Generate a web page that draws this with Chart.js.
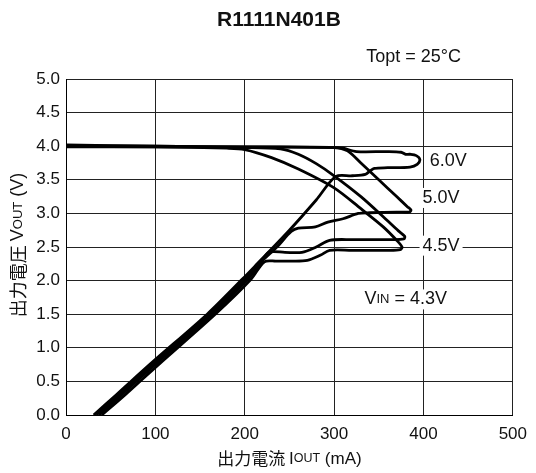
<!DOCTYPE html>
<html><head><meta charset="utf-8">
<script src="https://cdn.jsdelivr.net/npm/chart.js@4"></script>
<style>html,body{margin:0;padding:0;background:#fff}canvas{display:block}</style>
</head><body>
<canvas id="c" width="536" height="473"></canvas>
<script>
const chartTitle = 'R1111N401B';
const conditionText = 'Topt = 25°C';
const xTickValues = [0, 100, 200, 300, 400, 500];
const yTickValues = [0, 0.5, 1.0, 1.5, 2.0, 2.5, 3.0, 3.5, 4.0, 4.5, 5.0];

// VIN = 4.3V : output current (mA) / output voltage (V)
const i43 = [0, 100, 180, 200, 230, 260, 300, 330, 355, 370, 376, 374, 360, 320, 295, 285, 270, 250, 235, 222, 207, 167, 106, 66, 40];
const v43 = [3.99, 3.99, 3.97, 3.95, 3.83, 3.66, 3.38, 3.07, 2.8, 2.6, 2.5, 2.46, 2.45, 2.45, 2.45, 2.38, 2.3, 2.29, 2.29, 2.28, 2.02, 1.5, 0.78, 0.3, 0.0];
// VIN = 4.5V
const i45 = [0, 100, 200, 240, 260, 280, 300, 330, 355, 372, 379, 378, 365, 320, 295, 280, 264, 245, 227, 217, 204, 164, 103, 63, 37];
const v45 = [4.0, 3.99, 3.98, 3.96, 3.88, 3.74, 3.56, 3.25, 2.95, 2.74, 2.66, 2.62, 2.61, 2.61, 2.6, 2.5, 2.42, 2.42, 2.42, 2.24, 2.03, 1.5, 0.79, 0.31, 0.0];
// VIN = 5.0V
const i50 = [0, 100, 200, 300, 315, 330, 350, 370, 382, 386, 384, 370, 340, 327, 310, 293, 279, 260, 252, 236, 216, 201, 161, 100, 60, 34];
const v50 = [4.01, 4.0, 3.99, 3.98, 3.93, 3.75, 3.5, 3.25, 3.1, 3.05, 3.02, 3.02, 3.01, 3.0, 2.92, 2.87, 2.8, 2.78, 2.73, 2.5, 2.25, 2.03, 1.5, 0.79, 0.31, 0.0];
// VIN = 6.0V
const i60 = [0, 100, 200, 300, 310, 325, 360, 375, 380, 385, 392, 396, 393, 385, 360, 345, 340, 335, 320, 302, 280, 250, 214, 198, 158, 97, 57, 31];
const v60 = [4.02, 4.0, 3.99, 3.98, 3.97, 3.92, 3.92, 3.91, 3.88, 3.88, 3.86, 3.8, 3.73, 3.69, 3.68, 3.67, 3.63, 3.58, 3.56, 3.55, 3.2, 2.75, 2.25, 2.03, 1.5, 0.79, 0.31, 0.0];

const seriesCurrents = [i43, i45, i50, i60];
const seriesVoltages = [v43, v45, v50, v60];

const FONT = '"Liberation Sans", Arial, Helvetica, sans-serif';
const JFONT = '"Noto Sans CJK JP", "Liberation Sans", sans-serif';

function zip(xs, ys) { return xs.map((x, k) => ({ x: x, y: ys[k] })); }

function drawParts(ctx, parts, x, y) {
  let total = 0;
  parts.forEach(p => { ctx.font = p[1]; total += ctx.measureText(p[0]).width; });
  let cx = x - total / 2;
  ctx.textAlign = 'left';
  parts.forEach(p => { ctx.font = p[1]; ctx.fillText(p[0], cx, y); cx += ctx.measureText(p[0]).width; });
  return total;
}

function drawLabel(ctx, parts, x, y) {
  let total = 0;
  parts.forEach(p => { ctx.font = p[1]; total += ctx.measureText(p[0]).width; });
  ctx.fillStyle = '#fff';
  ctx.fillRect(x - 3, y - 10, total + 6, 20);
  ctx.fillStyle = '#111';
  let cx = x;
  ctx.textAlign = 'left';
  parts.forEach(p => { ctx.font = p[1]; ctx.fillText(p[0], cx, y); cx += ctx.measureText(p[0]).width; });
}

const textPlugin = {
  id: 'texts',
  afterDraw(chart) {
    const ctx = chart.ctx;
    const xs = chart.scales.x, ys = chart.scales.y;
    const ca = chart.chartArea;
    ctx.save();
    ctx.fillStyle = '#111';
    ctx.textBaseline = 'middle';
    ctx.font = 'bold 21px ' + FONT;
    ctx.textAlign = 'center';
    ctx.fillText(chartTitle, 279, 20);
    ctx.font = '18px ' + FONT;
    ctx.textAlign = 'right';
    ctx.fillText(conditionText, 461, 57);
    const f = '18px ' + FONT, fs = '13px ' + FONT;
    drawLabel(ctx, [['6.0V', f]], xs.getPixelForValue(407), ys.getPixelForValue(3.78));
    drawLabel(ctx, [['5.0V', f]], xs.getPixelForValue(399), ys.getPixelForValue(3.23));
    drawLabel(ctx, [['4.5V', f]], xs.getPixelForValue(399), ys.getPixelForValue(2.52));
    drawLabel(ctx, [['V', f], ['IN', fs], [' = 4.3V', f]], xs.getPixelForValue(334), ys.getPixelForValue(1.72));
    const tf = '17px ' + JFONT, lf = '17px ' + FONT, sf = '12.5px ' + FONT;
    ctx.fillStyle = '#111';
    drawParts(ctx, [['出力電流 ', tf], ['I', lf], ['OUT', sf], [' (mA)', lf]], (ca.left + ca.right) / 2, 459);
    const tf2 = '18px ' + JFONT, lf2 = '18px ' + FONT, sf2 = '13px ' + FONT;
    ctx.save();
    ctx.translate(18, (ca.top + ca.bottom) / 2 - 2);
    ctx.rotate(-Math.PI / 2);
    drawParts(ctx, [['出力電圧 ', tf2], ['V', lf2], ['OUT', sf2], [' (V)', lf2]], 0, 0);
    ctx.restore();
    ctx.restore();
  }
};

new Chart(document.getElementById('c').getContext('2d'), {
  type: 'scatter',
  data: {
    datasets: seriesCurrents.map((cur, k) => ({
      data: zip(cur, seriesVoltages[k]),
      showLine: true,
      borderColor: '#000',
      borderWidth: 2.8,
      pointRadius: 0,
      tension: 0.3,
      fill: false
    }))
  },
  options: {
    responsive: false,
    animation: false,
    devicePixelRatio: 1,
    layout: { padding: { top: 79, right: 20, left: 0, bottom: 0 } },
    plugins: { legend: { display: false }, tooltip: { enabled: false }, title: { display: false } },
    scales: {
      x: {
        type: 'linear', min: 0, max: 500,
        afterBuildTicks: s => { s.ticks = xTickValues.map(v => ({ value: v })); },
        afterFit: s => { s.height = 58; },
        grid: { color: '#222', lineWidth: 1, drawTicks: false },
        border: { color: '#000', width: 1 },
        ticks: { padding: 9, color: '#111', font: { family: FONT, size: 17 }, maxRotation: 0, callback: v => String(v) }
      },
      y: {
        type: 'linear', min: 0, max: 5,
        afterBuildTicks: s => { s.ticks = yTickValues.map(v => ({ value: v })); },
        afterFit: s => { s.width = 66; },
        grid: { color: '#222', lineWidth: 1, drawTicks: false },
        border: { color: '#000', width: 1 },
        ticks: { padding: 6, color: '#111', font: { family: FONT, size: 17 }, callback: v => Number(v).toFixed(1) }
      }
    }
  },
  plugins: [textPlugin]
});
</script>
</body></html>
